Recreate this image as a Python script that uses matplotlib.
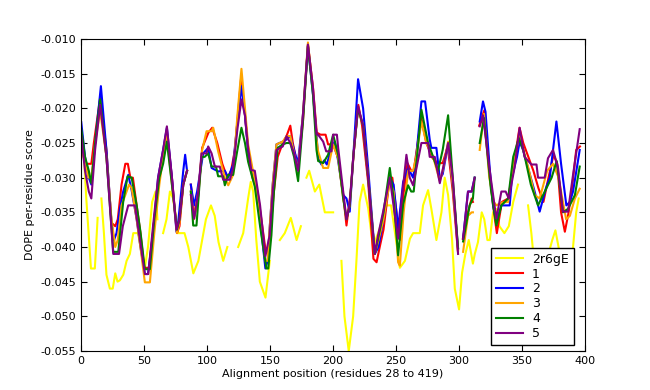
import numpy as np
import matplotlib
matplotlib.use('Agg')
import matplotlib.pyplot as plt
from matplotlib.ticker import FormatStrFormatter

nan = np.nan

# template 2r6gE (gaps = nan)
x_tmpl = [1.6, 4, 7.7, 10.8, 13, 14.5, 16, 18, 20, 22.7, 25, 27, 28.8, 30.7, 33.4, 36, 38.6, 41.3, 45,
          50.5, 53, 56.3, 59, 60.5, 62, 65, 67.7, 70.4, 73, 77, 82, 85, 89, 93, 95, 99, 103, 106, 109,
          112.7, 116, 120, 124.6, 128.6, 132.5, 134.6, 136.5, 139, 141.8, 146.3, 149.7, 153, 157.7,
          161.6, 166.4, 171, 174.4, 176.5, 178.8, 181, 185.5, 189, 193.4, 200, 203, 206.6, 209, 212.4,
          215.9, 218.5, 221, 223.8, 227.8, 231.7, 235.7, 239.7, 242.3, 246, 250.2, 253, 257, 261,
          263.5, 268.8, 271.4, 275.4, 278, 282, 286, 288.6, 291.3, 294.4, 296.6, 300, 302.4, 305,
          307.7, 311, 312.5, 315, 318, 320, 322.5, 324.4, 327, 329.6, 332, 336, 339.5, 343, 346.8,
          350, 354.8, 357.4, 360, 366, 371, 374, 376.5, 379, 383, 388, 390.5, 393, 395]
y_tmpl = [-0.0248, -0.033, -0.0431, -0.0431, -0.0358, nan, -0.033, -0.038, -0.044, -0.046, -0.046,
          -0.0438, -0.045, -0.0448, -0.044, -0.042, -0.041, -0.038, -0.038, -0.043, -0.040, -0.0335,
          -0.032, -0.036, nan, -0.038, -0.036, -0.032, -0.033, -0.038, -0.038, -0.040, -0.0438, -0.042,
          -0.040, -0.036, -0.034, -0.0355, -0.0393, -0.042, -0.040, nan, -0.040, -0.038, -0.033,
          -0.0306, -0.032, -0.039, -0.045, -0.0473, -0.042, nan, -0.039, -0.038, -0.0358, -0.039,
          -0.037, nan, -0.030, -0.029, -0.032, -0.031, -0.035, -0.035, nan, -0.042, -0.050, -0.055,
          -0.050, -0.042, -0.0335, -0.031, -0.0344, -0.040, -0.038, -0.0358, -0.034, -0.034, -0.0393,
          -0.043, -0.042, -0.0388, -0.038, -0.038, -0.034, -0.0318, -0.0345, -0.039, -0.035, -0.030,
          -0.0325, -0.0388, -0.046, -0.049, -0.0437, -0.041, -0.039, -0.0424, -0.041, -0.0393, -0.035,
          -0.036, -0.039, -0.039, -0.035, -0.0345, -0.037, -0.038, -0.037, -0.0335, -0.031, nan,
          -0.034, -0.038, -0.043, -0.045, -0.041, -0.039, -0.0376, -0.040, -0.045, -0.043, -0.040,
          -0.035, -0.033]

# model 1
x_m1 = [0, 3, 6, 8, 10, 15, 20, 24, 27, 29, 32, 35, 37, 39, 41, 44, 47, 50, 54, 58, 62, 65, 68, 72,
        76, 78, 81, 84, 85, 87, 90, 93, 96, 101, 104, 108, 112, 116, 119, 122, 127, 130, 133, 136,
        140, 143, 146, 148, 150, 153, 156, 160, 163, 166, 168, 172, 176, 180, 184, 187, 190, 194,
        196, 200, 204, 208, 210.6, 214, 217, 220, 223, 228, 232, 234.5, 237, 240, 245, 247, 251, 253,
        255.6, 259, 262, 264, 270, 274, 279, 283, 287, 291, 295, 299, 301, 303, 307, 310, 311, 313,
        316, 320, 324, 327, 330, 334, 339, 343, 348, 351, 355, 359, 363, 367, 371, 375, 378, 381,
        384, 387, 390, 393, 396]
y_m1 = [-0.025, -0.028, -0.028, -0.028, -0.025, -0.0185, -0.026, -0.0365, -0.037, -0.036, -0.031,
        -0.028, -0.028, -0.030, -0.030, -0.034, -0.038, -0.043, -0.043, -0.036, -0.030, -0.027,
        -0.0235, -0.030, -0.038, -0.037, -0.031, -0.029, nan, -0.031, -0.0355, -0.0325, -0.0257,
        -0.0235, -0.0228, -0.025, -0.028, -0.030, -0.029, -0.026, -0.0155, -0.021, -0.027, -0.030,
        -0.032, -0.036, -0.040, -0.041, -0.038, -0.032, -0.027, -0.025, -0.024, -0.0225, -0.025,
        -0.0285, -0.022, -0.0108, -0.017, -0.0235, -0.0238, -0.0238, -0.0252, -0.0252, -0.0272,
        -0.0325, -0.0369, -0.032, -0.025, -0.0195, -0.0225, -0.031, -0.0417, -0.0422, -0.040,
        -0.0375, -0.030, -0.030, -0.036, -0.039, -0.0328, -0.0279, -0.029, -0.029, -0.0214, -0.025,
        -0.0272, -0.0279, -0.0279, -0.0255, -0.032, -0.0405, nan, -0.0388, -0.035, -0.033, -0.0335,
        nan, -0.0225, -0.0203, -0.029, -0.034, -0.038, -0.0335, -0.033, -0.0286, -0.0228, -0.025,
        -0.027, -0.029, -0.0315, -0.0335, -0.030, -0.0267, -0.028, -0.035, -0.0378, -0.035, -0.031,
        -0.026, -0.0255]

# model 2
x_m2 = [0, 3, 6, 8, 11, 15.6, 20, 24, 26, 28, 30.7, 33.3, 37.3, 40, 44, 47, 50.5, 53, 57, 61, 65,
        68, 72, 75.6, 77, 81, 82.5, 84, 85, 87, 89.5, 92, 96.8, 100.8, 103.5, 108.7, 114, 116.7,
        120.6, 124, 127.2, 130, 132.5, 137.8, 142, 146.2, 148, 149.6, 152, 155, 160, 163, 166, 169,
        172, 176, 180, 184, 186.8, 188.1, 190.7, 193, 195, 198.7, 201.3, 204, 208, 210.6, 213.2, 216,
        219.8, 223.8, 227.8, 233.1, 236, 240, 245, 248, 251.6, 255.6, 259.5, 263.5, 266, 270.1, 273,
        276.7, 278, 282, 284.7, 287, 291.3, 295, 299.2, 301, 303.2, 307.1, 310, 312.4, 314, 316.4,
        319, 321, 324.3, 327, 329.6, 333.6, 340.2, 342, 346, 348.1, 350.8, 354.8, 360, 364, 369, 372,
        377.3, 381, 385.2, 388, 390.5, 394.4, 395.8]
y_m2 = [-0.022, -0.027, -0.030, -0.031, -0.025, -0.0168, -0.026, -0.0364, -0.039, -0.038, -0.0345,
        -0.032, -0.0296, -0.0318, -0.036, -0.040, -0.0439, -0.0439, -0.038, -0.030, -0.026, -0.0228,
        -0.030, -0.0378, -0.0364, -0.029, -0.0267, -0.029, nan, -0.031, -0.034, -0.032, -0.0265,
        -0.0257, -0.0286, -0.0291, -0.029, -0.030, -0.0281, -0.022, -0.0168, -0.021, -0.0262,
        -0.0305, -0.036, -0.0431, -0.042, -0.0373, -0.031, -0.0252, -0.0248, -0.0245, -0.024,
        -0.026, -0.028, -0.021, -0.011, -0.018, -0.0238, -0.0272, -0.0281, -0.0275, -0.0281,
        -0.0257, -0.0248, -0.0276, -0.0325, -0.033, -0.0349, -0.027, -0.0158, -0.020, -0.0286,
        -0.041, -0.040, -0.036, -0.030, -0.031, -0.0373, -0.0306, -0.0286, -0.030, -0.027, -0.019,
        -0.019, -0.0245, -0.0257, -0.0257, -0.0301, -0.0295, -0.0252, -0.031, -0.0402, nan, -0.0388,
        -0.032, -0.032, -0.030, nan, -0.0219, -0.019, -0.0205, -0.0286, -0.034, -0.0364, -0.034,
        -0.034, -0.030, -0.027, -0.0248, -0.026, -0.0286, -0.032, -0.0349, -0.0315, -0.030, -0.0219,
        -0.028, -0.034, -0.0335, -0.032, -0.0276, -0.026]

# model 3
x_m3 = [0, 3, 6, 8, 11, 15, 20, 24, 27, 29, 32, 36, 38, 40, 44, 47, 50.5, 54.5, 58, 62, 65, 68, 72,
        76, 78, 81, 84, 85, 87, 89.5, 93, 96, 99.5, 103.5, 104.8, 108.7, 114, 116.7, 120.6, 124,
        127.2, 130, 132.5, 137.8, 142, 146.2, 148, 149.6, 152, 155, 160, 163, 166, 169, 172, 176, 180,
        184, 186.8, 188.1, 192.1, 196, 200, 204, 208, 210.6, 213.2, 216, 219.8, 223.8, 227.8, 233.1,
        236, 240, 245, 248, 251.6, 253, 256, 259.5, 263.5, 266, 270.1, 274, 279.4, 284.7, 287, 291.3,
        295, 299.2, 301, 303.2, 307.1, 310, 311, 313, 316.4, 319.8, 324, 327.6, 329.6, 333.6, 339,
        343, 348.1, 351, 355, 360, 364, 370, 374.6, 379, 385, 388, 392, 395.8]
y_m3 = [-0.0255, -0.028, -0.030, -0.030, -0.025, -0.0204, -0.027, -0.036, -0.040, -0.039, -0.034,
        -0.032, -0.031, -0.0315, -0.036, -0.040, -0.0451, -0.0451, -0.038, -0.031, -0.027, -0.024,
        -0.031, -0.038, -0.0365, -0.031, -0.029, nan, -0.032, -0.036, -0.032, -0.026, -0.0233,
        -0.0233, -0.0228, -0.0262, -0.030, -0.0311, -0.0296, -0.021, -0.0143, -0.020, -0.0252,
        -0.0305, -0.036, -0.042, -0.042, -0.0373, -0.031, -0.0252, -0.0248, -0.024, -0.024, -0.0265,
        -0.029, -0.021, -0.0105, -0.0175, -0.0245, -0.0262, -0.0286, -0.0286, -0.0252, -0.0272,
        -0.033, -0.0357, -0.034, -0.027, -0.020, -0.0225, -0.030, -0.041, -0.039, -0.036, -0.0305,
        -0.032, -0.0422, -0.0427, -0.035, -0.029, -0.029, -0.027, -0.0219, -0.025, -0.027, -0.0305,
        -0.029, -0.0248, -0.031, -0.0405, nan, -0.0407, -0.0355, -0.035, -0.035, nan, -0.026,
        -0.0208, -0.030, -0.0335, -0.034, -0.0336, -0.0335, -0.028, -0.0238, -0.026, -0.0286,
        -0.0325, -0.033, -0.029, -0.028, -0.030, -0.036, -0.0355, -0.033, -0.0316]

# model 4
x_m4 = [0, 3, 6, 8, 11, 15, 20, 25.4, 29.4, 33.3, 36.8, 40, 44, 47, 50.5, 54.5, 58, 62, 65, 68, 72,
        76, 78, 81, 84, 85, 87, 88.9, 91.5, 95.5, 98, 100.8, 103.5, 107, 108.7, 112.7, 114, 116.7,
        120.6, 124, 127.2, 130, 132.5, 137.8, 142, 147, 148.5, 151, 153, 156, 160, 163, 166, 169,
        172.2, 176, 180, 184, 186.8, 188.1, 192.1, 196, 200, 204, 208, 210.6, 213.2, 216, 219.8,
        223.8, 227.8, 233.1, 236, 240, 245, 248, 251.6, 255.6, 259.5, 262, 264, 270.1, 275.4, 279.4,
        283.3, 287, 291.3, 295, 299.2, 301, 303.2, 308.4, 311, 312.4, 314, 316.4, 319.8, 325.3,
        329.6, 333.6, 339, 343, 347.5, 351, 357, 362.7, 366.7, 373.5, 377.5, 382.5, 386.5, 392,
        395.8]
y_m4 = [-0.023, -0.027, -0.029, -0.0308, -0.025, -0.0187, -0.027, -0.0407, -0.0407, -0.0335,
        -0.0298, -0.030, -0.034, -0.0378, -0.0432, -0.0432, -0.036, -0.030, -0.028, -0.0248, -0.031,
        -0.0375, -0.036, -0.031, -0.029, nan, -0.032, -0.0369, -0.0369, -0.027, -0.027, -0.0265,
        -0.0284, -0.0284, -0.0298, -0.0298, -0.0311, -0.0296, -0.0296, -0.026, -0.0228, -0.025,
        -0.0277, -0.0313, -0.037, -0.0431, -0.0431, -0.0383, -0.032, -0.0257, -0.0252, -0.025,
        -0.025, -0.027, -0.0305, -0.022, -0.011, -0.018, -0.026, -0.0276, -0.0279, -0.0267,
        -0.0238, -0.0267, -0.033, -0.036, -0.034, -0.027, -0.020, -0.0225, -0.030, -0.041, -0.0385,
        -0.035, -0.0286, -0.033, -0.0412, -0.0338, -0.0311, -0.032, -0.032, -0.0202, -0.025, -0.027,
        -0.029, -0.026, -0.021, -0.030, -0.0402, nan, -0.0392, -0.034, -0.033, -0.030, nan, -0.025,
        -0.0214, -0.0317, -0.0369, -0.034, -0.033, -0.027, -0.0243, -0.026, -0.031, -0.034,
        -0.0325, -0.030, -0.0276, -0.035, -0.0345, -0.0325, -0.0284]

# model 5
x_m5 = [0, 3, 6, 8, 11, 15, 20, 25.4, 30, 33, 37.3, 42.6, 46.6, 50.5, 53.2, 57, 61, 65, 68, 72,
        75.6, 78, 81, 84, 85, 87, 89.7, 92.9, 95.5, 99.5, 100.8, 103.5, 106.1, 110, 112.7, 118,
        120.6, 124, 127.2, 130, 132.5, 135, 137.8, 142, 146.2, 149.6, 152, 155, 160, 163, 166, 169,
        172.2, 176, 180, 184, 186.8, 188.1, 192.1, 194.5, 198.7, 200, 203, 204, 208, 210.6, 213,
        216, 219.8, 223.8, 227.8, 233.1, 235.7, 239.7, 245, 249, 251.6, 254.3, 258.2, 260.8, 263.5,
        266.2, 270.1, 275.4, 276.7, 280.7, 284.7, 288, 291.3, 295, 299.2, 301, 303.2, 307.1, 310,
        312.4, 314, 316.4, 319, 324.3, 329.6, 333.6, 337, 339.5, 344, 348.1, 352, 357.4, 361.5,
        362.7, 368, 370.6, 374.6, 378.6, 382.5, 386.5, 390.5, 395.8]
y_m5 = [-0.024, -0.029, -0.032, -0.033, -0.026, -0.0195, -0.027, -0.041, -0.041, -0.037, -0.034,
        -0.034, -0.039, -0.0439, -0.0439, -0.037, -0.030, -0.026, -0.0226, -0.030, -0.0375, -0.036,
        -0.031, -0.029, nan, -0.0325, -0.0359, -0.032, -0.0265, -0.0265, -0.0255, -0.0265, -0.0284,
        -0.0284, -0.0303, -0.0303, -0.0286, -0.023, -0.0187, -0.021, -0.0257, -0.0289, -0.029,
        -0.034, -0.0413, -0.0383, -0.032, -0.026, -0.0255, -0.024, -0.025, -0.0265, -0.029, -0.021,
        -0.0108, -0.017, -0.0238, -0.0238, -0.0248, -0.0262, -0.0262, -0.0238, -0.0238, -0.0257,
        -0.032, -0.036, -0.034, -0.027, -0.0197, -0.0225, -0.030, -0.041, -0.0383, -0.0349, -0.030,
        -0.0354, -0.0388, -0.0335, -0.0267, -0.030, -0.0311, -0.0286, -0.025, -0.025, -0.027,
        -0.027, -0.0308, -0.028, -0.025, -0.030, -0.041, nan, -0.0388, -0.032, -0.032, -0.030, nan,
        -0.0226, -0.021, -0.0289, -0.0359, -0.032, -0.032, -0.033, -0.0286, -0.0228, -0.027,
        -0.0281, -0.0281, -0.030, -0.030, -0.0272, -0.026, -0.0286, -0.0349, -0.0349, -0.0296,
        -0.0230]

series = [('2r6gE', x_tmpl, y_tmpl, 'yellow'),
          ('1', x_m1, y_m1, 'red'),
          ('2', x_m2, y_m2, 'blue'),
          ('3', x_m3, y_m3, 'orange'),
          ('4', x_m4, y_m4, 'green'),
          ('5', x_m5, y_m5, 'purple')]

plt.rcParams['font.size'] = 8
plt.rcParams['xtick.direction'] = 'in'
plt.rcParams['ytick.direction'] = 'in'
plt.rcParams['xtick.top'] = True
plt.rcParams['ytick.right'] = True

fig = plt.figure(figsize=(6.5, 3.9), dpi=100)
ax = fig.add_axes([0.125, 0.1, 0.775, 0.8])

for name, xs, ys, col in series:
    ax.plot(xs, ys, color=col, lw=1.5, label=name)

ax.set_xlim(0, 400)
ax.set_ylim(-0.055, -0.010)
ax.set_yticks(np.arange(-0.055, -0.0099, 0.005))
ax.yaxis.set_major_formatter(FormatStrFormatter('%.3f'))
ax.tick_params(length=4, width=0.8)
ax.set_xlabel('Alignment position (residues 28 to 419)', labelpad=2)
ax.set_ylabel('DOPE per-residue score')

leg = ax.legend(loc='lower right', bbox_to_anchor=(0.978, 0.019), borderaxespad=0,
                fancybox=False, fontsize=9, labelspacing=0.15, handlelength=2.2,
                handletextpad=0.7, framealpha=1)
leg.get_frame().set_edgecolor('black')

fig.savefig('out.png', dpi=100, facecolor='white')
